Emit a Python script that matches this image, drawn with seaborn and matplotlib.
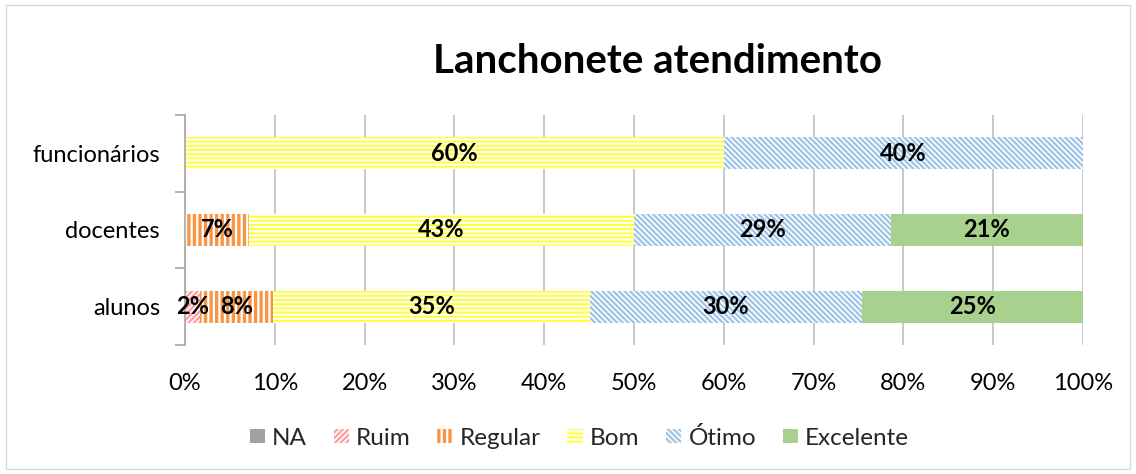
import numpy as np
import pandas as pd
import seaborn as sns
import matplotlib.pyplot as plt
from matplotlib.patches import Patch, Rectangle

# --- data (percent per respondent group) ---
groups = ['funcionários', 'docentes', 'alunos']
categories = ['NA', 'Ruim', 'Regular', 'Bom', 'Ótimo', 'Excelente']
na = [0.0, 0.0, 0.0]
ruim = [0.0, 0.0, 1.7]
regular = [0.0, 7.1, 8.1]
bom = [60.0, 42.9, 35.3]
otimo = [40.0, 28.6, 30.3]
excelente = [0.0, 21.4, 24.6]

# style per category: facecolor, hatch colour, hatch
styles = {
    'NA': ('#A0A0A0', '#A0A0A0', ''),
    'Ruim': ('#FFFFFF', '#FF9C9C', '//////'),
    'Regular': ('#F79646', '#FFFFFF', '|||'),
    'Bom': ('#FFFF33', '#FFFFFF', '----'),
    'Ótimo': ('#FFFFFF', '#9DC3E6', '\\\\\\\\\\\\'),
    'Excelente': ('#A9D18E', '#A9D18E', ''),
}

df = pd.DataFrame({'grupo': groups, 'NA': na, 'Ruim': ruim, 'Regular': regular,
                   'Bom': bom, 'Ótimo': otimo, 'Excelente': excelente})
cum = df[categories].cumsum(axis=1)

sns.set_theme(style='white')
plt.rcParams['font.family'] = ['Lato', 'DejaVu Sans']
plt.rcParams['hatch.linewidth'] = 1.6

fig = plt.figure(figsize=(11.36, 4.74), dpi=100)
ax = fig.add_axes([0.1629, 0.2722, 0.7904, 0.4852])

# draw cumulative layers, widest first, so each segment sits on top of the next
for cat in reversed(categories):
    face, hcol, hatch = styles[cat]
    n_before = len(ax.patches)
    sns.barplot(x=cum[cat], y=df['grupo'], orient='h', order=groups,
                color=face, width=0.42, ax=ax, linewidth=0, saturation=1)
    for p in ax.patches[n_before:]:
        p.set_facecolor(face)
        p.set_edgecolor(hcol)
        p.set_hatch(hatch)
        p.set_linewidth(0)

# segment labels
for i, g in enumerate(groups):
    start = 0.0
    for cat in categories:
        v = df.loc[i, cat]
        if v > 0:
            ax.text(start + v / 2, i, f'{v:.0f}%', ha='center', va='center',
                    fontsize=17, fontweight='bold', color='black')
        start += v

ax.set_xlim(0, 100)
ax.set_ylim(2.5, -0.5)
ax.set_xticks(np.arange(0, 101, 10))
ax.set_xticklabels([f'{t}%' for t in range(0, 101, 10)])
ax.xaxis.grid(True, color='#BFBFBF', linewidth=1.2)
ax.set_axisbelow(True)
ax.set_xlabel('')
ax.set_ylabel('')
for s in ['top', 'right', 'bottom']:
    ax.spines[s].set_visible(False)
ax.spines['left'].set_color('#A6A6A6')
ax.spines['left'].set_linewidth(1.2)
ax.tick_params(axis='x', length=0, labelsize=17, labelcolor='black', pad=20)
ax.tick_params(axis='y', which='major', length=0, labelsize=17, labelcolor='black', pad=18)
ax.set_yticks([-0.5, 0.5, 1.5, 2.5], minor=True)
ax.tick_params(axis='y', which='minor', length=7, width=1.2, color='#A6A6A6', left=True)

fig.text(0.579, 0.87, 'Lanchonete atendimento', ha='center', va='center',
         fontsize=29, fontweight='bold', color='black')

handles = []
for cat in categories:
    face, hcol, hatch = styles[cat]
    handles.append(Patch(facecolor=face, edgecolor=hcol, hatch=hatch, linewidth=0, label=cat))
fig.legend(handles=handles, loc='center', bbox_to_anchor=(0.51, 0.077), ncol=6,
           frameon=False, fontsize=17.5, handlelength=0.62, handleheight=0.5,
           handletextpad=0.3, columnspacing=1.1)

fig.patches.append(Rectangle((0.005, 0.01), 0.99, 0.98, transform=fig.transFigure,
                             fill=False, edgecolor='#D9D9D9', linewidth=1))

fig.savefig('out.png', dpi=100)
